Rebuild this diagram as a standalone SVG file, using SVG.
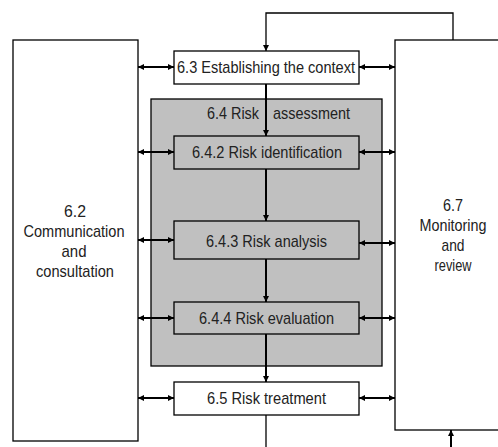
<svg xmlns="http://www.w3.org/2000/svg" width="498" height="447" viewBox="0 0 498 447">
<style>
.box{fill:#fff;stroke:#000;stroke-width:1.3}
.gbox{fill:#c0c0c0;stroke:#000;stroke-width:1.3}
.t{font-family:"Liberation Sans",Arial,sans-serif;font-size:17px;fill:#222}
.c{text-anchor:middle}
.ln{fill:none;stroke:#000;stroke-width:2}
.thin{fill:none;stroke:#000;stroke-width:1.3}
</style>
<defs>
<marker id="ah" viewBox="0 0 10 10" refX="10" refY="5" markerWidth="6" markerHeight="6" markerUnits="userSpaceOnUse" orient="auto-start-reverse">
<path d="M0,0L10,5L0,10z" fill="#000"/>
</marker>
</defs>
<rect x="0" y="0" width="498" height="447" fill="#fff"/>
<g id="n62">
<rect class="box" x="13" y="40" width="125" height="401"/>
<text class="t c" x="75" y="217" textLength="22" lengthAdjust="spacingAndGlyphs">6.2</text>
<text class="t c" x="74" y="237" textLength="101" lengthAdjust="spacingAndGlyphs">Communication</text>
<text class="t c" x="74" y="257" textLength="25" lengthAdjust="spacingAndGlyphs">and</text>
<text class="t c" x="75" y="277" textLength="78" lengthAdjust="spacingAndGlyphs">consultation</text>
</g>
<g id="n67">
<rect class="box" x="395" y="40" width="110" height="390"/>
<text class="t c" x="453" y="211" textLength="20" lengthAdjust="spacingAndGlyphs">6.7</text>
<text class="t c" x="453" y="231" textLength="67" lengthAdjust="spacingAndGlyphs">Monitoring</text>
<text class="t c" x="453" y="251" textLength="23" lengthAdjust="spacingAndGlyphs">and</text>
<text class="t c" x="453" y="271" textLength="37" lengthAdjust="spacingAndGlyphs">review</text>
</g>
<g id="n64">
<rect class="gbox" x="151" y="99" width="231" height="267"/>
<text class="t" x="207" y="119" textLength="52" lengthAdjust="spacingAndGlyphs">6.4 Risk</text>
<text class="t" x="273" y="119" textLength="77" lengthAdjust="spacingAndGlyphs">assessment</text>
</g>
<g id="n63">
<rect class="box" x="174" y="51" width="185" height="33"/>
<text class="t" x="177" y="73" textLength="178" lengthAdjust="spacingAndGlyphs">6.3 Establishing the context</text>
</g>
<g id="n642">
<rect class="gbox" x="174" y="136" width="185" height="33"/>
<text class="t" x="192" y="158" textLength="150" lengthAdjust="spacingAndGlyphs">6.4.2 Risk identification</text>
</g>
<g id="n643">
<rect class="gbox" x="174" y="221" width="185" height="38"/>
<text class="t" x="206" y="247" textLength="121" lengthAdjust="spacingAndGlyphs">6.4.3 Risk analysis</text>
</g>
<g id="n644">
<rect class="gbox" x="174" y="302" width="185" height="32"/>
<text class="t" x="199" y="324" textLength="135" lengthAdjust="spacingAndGlyphs">6.4.4 Risk evaluation</text>
</g>
<g id="n65">
<rect class="box" x="174" y="382" width="185" height="33"/>
<text class="t" x="207" y="404" textLength="119" lengthAdjust="spacingAndGlyphs">6.5 Risk treatment</text>
</g>
<g id="connectors">
<path class="thin" d="M453,40V13H266V51" marker-end="url(#ah)"/>
<path class="ln" d="M266,84V136" marker-end="url(#ah)"/>
<path class="ln" d="M266,169V221" marker-end="url(#ah)"/>
<path class="ln" d="M266,259V302" marker-end="url(#ah)"/>
<path class="ln" d="M266,334V382" marker-end="url(#ah)"/>
<path class="thin" d="M266,415V447"/>
<path class="ln" d="M451,447V430" marker-end="url(#ah)"/>
<path class="ln" d="M138,67H174" marker-start="url(#ah)" marker-end="url(#ah)"/>
<path class="ln" d="M138,152H174" marker-start="url(#ah)" marker-end="url(#ah)"/>
<path class="ln" d="M138,240H174" marker-start="url(#ah)" marker-end="url(#ah)"/>
<path class="ln" d="M138,318H174" marker-start="url(#ah)" marker-end="url(#ah)"/>
<path class="ln" d="M138,398H174" marker-start="url(#ah)" marker-end="url(#ah)"/>
<path class="ln" d="M359,67H395" marker-start="url(#ah)" marker-end="url(#ah)"/>
<path class="ln" d="M359,152H395" marker-start="url(#ah)" marker-end="url(#ah)"/>
<path class="ln" d="M359,243H395" marker-start="url(#ah)" marker-end="url(#ah)"/>
<path class="ln" d="M359,318H395" marker-start="url(#ah)" marker-end="url(#ah)"/>
<path class="ln" d="M359,398H395" marker-start="url(#ah)" marker-end="url(#ah)"/>
</g>
</svg>
